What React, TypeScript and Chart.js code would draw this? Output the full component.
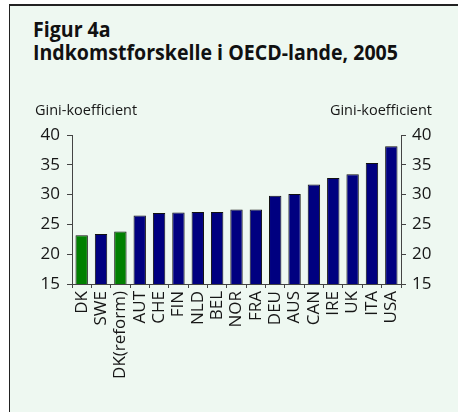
import React, { useEffect, useLayoutEffect, useRef } from "react";
import { Chart, registerables } from "chart.js";

Chart.register(...registerables);

const titleLines = ["Figur 4a", "Indkomstforskelle i OECD-lande, 2005"];
const axisTitle = "Gini-koefficient";
const categories = [
  "DK", "SWE", "DK(reform)", "AUT", "CHE", "FIN", "NLD", "BEL", "NOR",
  "FRA", "DEU", "AUS", "CAN", "IRE", "UK", "ITA", "USA",
];
const giniValues = [
  23.2, 23.4, 23.8, 26.5, 26.9, 27.0, 27.1, 27.1, 27.5,
  27.5, 29.8, 30.1, 31.7, 32.8, 33.4, 35.3, 38.1,
];
const highlighted = ["DK", "DK(reform)"];
const yMin = 15;
const yMax = 40;
const yStep = 5;

const GREEN = "#008000";
const NAVY = "#000080";
const MINT = "#eef8f1";
const AXIS = "#444444";
const TEXT = "#161616";
const FONT = "'Open Sans', 'Noto Sans', sans-serif";

export default function App() {
  const canvasRef = useRef<HTMLCanvasElement | null>(null);
  const line1Ref = useRef<HTMLSpanElement | null>(null);
  const line2Ref = useRef<HTMLSpanElement | null>(null);

  useLayoutEffect(() => {
    const l2 = line2Ref.current;
    const l1 = line1Ref.current;
    if (!l1 || !l2) return;
    const w = l2.getBoundingClientRect().width;
    const s = w > 0 ? 365 / w : 1;
    l1.style.transform = `scaleX(${s})`;
    l2.style.transform = `scaleX(${s})`;
  }, []);

  useEffect(() => {
    const canvas = canvasRef.current;
    if (!canvas) return;

    const axisTitles = {
      id: "axisTitles",
      afterDraw(chart: any) {
        const ctx = chart.ctx;
        ctx.save();
        ctx.font = `14.5px ${FONT}`;
        ctx.fillStyle = TEXT;
        ctx.textBaseline = "alphabetic";
        ctx.textAlign = "left";
        ctx.fillText(axisTitle, 35, 115);
        ctx.textAlign = "right";
        ctx.fillText(axisTitle, 432, 115);
        ctx.restore();
      },
    };

    const chart = new Chart(canvas, {
      type: "bar",
      data: {
        labels: categories,
        datasets: [
          {
            data: giniValues,
            backgroundColor: categories.map((c) => (highlighted.includes(c) ? GREEN : NAVY)),
            borderColor: "#111111",
            borderWidth: 1,
            categoryPercentage: 1,
            barPercentage: 0.64,
            yAxisID: "y",
          },
        ],
      },
      options: {
        responsive: false,
        animation: false,
        layout: { padding: { top: 135, left: 0, right: 0, bottom: 0 } },
        plugins: {
          legend: { display: false },
          tooltip: { enabled: false },
          title: { display: false },
        },
        scales: {
          x: {
            grid: {
              display: true,
              drawOnChartArea: false,
              drawTicks: true,
              tickLength: 4,
              color: AXIS,
              offset: true,
            },
            border: { display: true, color: AXIS, width: 1 },
            ticks: {
              autoSkip: false,
              maxRotation: 90,
              minRotation: 90,
              padding: 3,
              color: TEXT,
              font: { family: FONT, size: 17 },
            },
            afterFit: (s: any) => {
              s.height = 128;
            },
          },
          y: {
            position: "left",
            min: yMin,
            max: yMax,
            grid: {
              drawOnChartArea: false,
              drawTicks: true,
              tickLength: 5,
              color: AXIS,
            },
            border: { display: true, color: AXIS, width: 1 },
            ticks: {
              stepSize: yStep,
              padding: 7,
              color: TEXT,
              font: { family: FONT, size: 17 },
            },
            afterFit: (s: any) => {
              s.width = 72;
            },
          },
          y2: {
            display: true,
            position: "right",
            min: yMin,
            max: yMax,
            grid: {
              drawOnChartArea: false,
              drawTicks: true,
              tickLength: 5,
              color: AXIS,
            },
            border: { display: true, color: AXIS, width: 1 },
            ticks: {
              stepSize: yStep,
              padding: 6,
              color: TEXT,
              font: { family: FONT, size: 17 },
            },
            afterFit: (s: any) => {
              s.width = 57;
            },
          },
        },
      },
      plugins: [axisTitles],
    });

    return () => chart.destroy();
  }, []);

  const titleStyle: React.CSSProperties = {
    position: "absolute",
    left: 33,
    fontFamily: FONT,
    fontWeight: 700,
    fontSize: 22,
    lineHeight: "22px",
    color: "#111111",
    whiteSpace: "nowrap",
    transformOrigin: "left top",
    display: "inline-block",
  };

  return (
    <div style={{ position: "fixed", left: 0, top: 0, width: 458, height: 412, background: "#ffffff", overflow: "hidden" }}>
      <div style={{ position: "absolute", left: 10, top: 6, right: 0, bottom: 0, background: MINT }} />
      <div style={{ position: "absolute", left: 9, top: 4, width: 449, height: 2, background: "#222222" }} />
      <div style={{ position: "absolute", left: 9, top: 5, width: 1, bottom: 0, background: "#222222" }} />
      <span ref={line1Ref} style={{ ...titleStyle, top: 17 }}>{titleLines[0]}</span>
      <span ref={line2Ref} style={{ ...titleStyle, top: 40 }}>{titleLines[1]}</span>
      <canvas
        ref={canvasRef}
        width={458}
        height={412}
        style={{ position: "absolute", left: 0, top: 0, width: 458, height: 412 }}
      />
    </div>
  );
}
